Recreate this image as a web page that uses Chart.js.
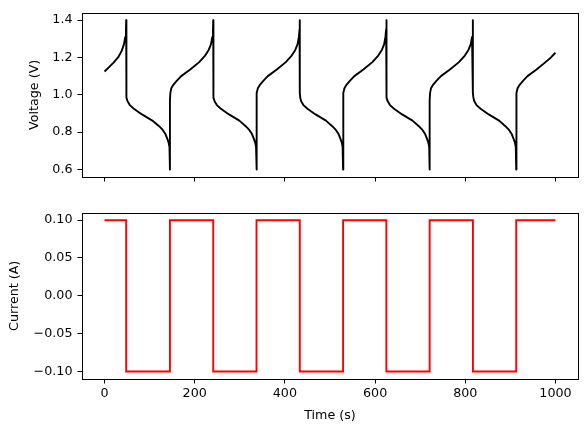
<!DOCTYPE html>
<html>
<head>
<meta charset="utf-8">
<script src="https://cdn.jsdelivr.net/npm/chart.js@4.4.0/dist/chart.umd.min.js"></script>
<style>
  body { margin: 0; background: #fff; }
  #wrap { position: relative; width: 587px; height: 432px; }
  #top { position: absolute; left: 0; top: 0; }
  #bottom { position: absolute; left: 0; top: 200px; }
</style>
</head>
<body>
<div id="wrap">
  <canvas id="top" width="587" height="200"></canvas>
  <canvas id="bottom" width="587" height="232"></canvas>
</div>
<script>
// voltage trace (s, V)
const voltageTime = [
  0, 10, 20, 30, 38, 43, 46, 47.5, 48,
  48, 49, 51, 56, 65, 83, 106, 121, 129, 135, 139, 142, 144, 145,
  145, 146, 148, 153, 160, 170, 190, 210, 223, 231, 236, 239, 240.5, 241,
  241, 242, 244, 249, 258, 276, 299, 313, 321, 327, 331, 334, 336, 337,
  337, 338, 340, 345, 352, 362, 382, 402, 415, 423, 428, 431, 432.5, 433,
  433, 434, 436, 441, 450, 468, 491, 505, 513, 519, 523, 526, 528, 529,
  529, 530, 532, 537, 544, 554, 574, 594, 607, 615, 620, 623, 624.5, 625,
  625, 626, 628, 633, 642, 660, 683, 697, 705, 711, 715, 718, 720, 721,
  721, 722, 724, 729, 736, 746, 766, 786, 799, 807, 812, 815, 816.5, 817,
  817, 818, 820, 825, 834, 852, 875, 889, 897, 903, 907, 910, 912, 913,
  913, 914, 916, 921, 928, 938, 958, 978, 990, 1000
];
const voltageValues = [
  1.125, 1.148, 1.172, 1.20, 1.235, 1.27, 1.31, 1.35, 1.40,
  1.01, 0.985, 0.965, 0.945, 0.925, 0.895, 0.862, 0.832, 0.812, 0.79, 0.765, 0.745, 0.72, 0.60,
  0.97, 1.01, 1.035, 1.055, 1.075, 1.10, 1.135, 1.175, 1.21, 1.24, 1.27, 1.31, 1.35, 1.40,
  1.01, 0.985, 0.965, 0.945, 0.925, 0.895, 0.862, 0.832, 0.812, 0.79, 0.765, 0.745, 0.72, 0.60,
  0.97, 1.01, 1.035, 1.055, 1.075, 1.10, 1.135, 1.175, 1.21, 1.24, 1.27, 1.31, 1.35, 1.40,
  1.01, 0.985, 0.965, 0.945, 0.925, 0.895, 0.862, 0.832, 0.812, 0.79, 0.765, 0.745, 0.72, 0.60,
  0.97, 1.01, 1.035, 1.055, 1.075, 1.10, 1.135, 1.175, 1.21, 1.24, 1.27, 1.31, 1.35, 1.40,
  1.01, 0.985, 0.965, 0.945, 0.925, 0.895, 0.862, 0.832, 0.812, 0.79, 0.765, 0.745, 0.72, 0.60,
  0.97, 1.01, 1.035, 1.055, 1.075, 1.10, 1.135, 1.175, 1.21, 1.24, 1.27, 1.31, 1.35, 1.40,
  1.01, 0.985, 0.965, 0.945, 0.925, 0.895, 0.862, 0.832, 0.812, 0.79, 0.765, 0.745, 0.72, 0.60,
  0.97, 1.01, 1.035, 1.055, 1.075, 1.10, 1.135, 1.175, 1.20, 1.225
];

// current steps: value holds from each time until the next one
const switchTimes = [0, 48, 145, 241, 337, 433, 529, 625, 721, 817, 913, 1000];
const currentValues = [0.1, -0.1, 0.1, -0.1, 0.1, -0.1, 0.1, -0.1, 0.1, -0.1, 0.1, 0.1];

const timeTicks = [0, 200, 400, 600, 800, 1000];
const voltageTicks = [0.6, 0.8, 1.0, 1.2, 1.4];
const currentTicks = [-0.10, -0.05, 0.00, 0.05, 0.10];

const font = { family: 'DejaVu Sans', size: 12.7 };
const minus = s => s.replace('-', '\u2212');

const boxPlugin = {
  id: 'box',
  afterDraw(chart) {
    const a = chart.chartArea;
    const ctx = chart.ctx;
    ctx.save();
    ctx.strokeStyle = '#000';
    ctx.lineWidth = 1;
    ctx.strokeRect(Math.round(a.left) + 0.5, Math.round(a.top) + 0.5,
      Math.round(a.right - a.left), Math.round(a.bottom - a.top));
    ctx.restore();
  }
};

function axisX(showLabels, height) {
  return {
    type: 'linear',
    min: -50,
    max: 1050,
    afterBuildTicks: s => { s.ticks = timeTicks.map(v => ({ value: v })); },
    afterFit: s => { s.height = height; },
    grid: { drawOnChartArea: false, color: '#000', tickLength: 4.5, tickWidth: 1 },
    border: { display: false },
    ticks: { display: showLabels, color: '#000', font: font, padding: 3, maxRotation: 0, callback: v => String(v) },
    title: { display: showLabels, text: 'Time (s)', color: '#000', font: font, padding: { top: 0, bottom: 9 } }
  };
}

function axisY(min, max, ticks, digits, label, titlePad) {
  return {
    min: min,
    max: max,
    afterBuildTicks: s => { s.ticks = ticks.map(v => ({ value: v })); },
    afterFit: s => { s.width = 82; },
    grid: { drawOnChartArea: false, color: '#000', tickLength: 4.5, tickWidth: 1 },
    border: { display: false },
    ticks: { color: '#000', font: font, padding: 5, callback: v => minus(v.toFixed(digits)) },
    title: { display: true, text: label, color: '#000', font: font, padding: { top: titlePad, bottom: 0 } }
  };
}

function baseOptions(padTop, x, y) {
  return {
    responsive: false,
    animation: false,
    events: [],
    layout: { padding: { left: 0, right: 9, top: padTop, bottom: 0 } },
    plugins: { legend: { display: false }, tooltip: { enabled: false } },
    scales: { x: x, y: y }
  };
}

new Chart(document.getElementById('top').getContext('2d'), {
  type: 'line',
  data: {
    datasets: [{
      label: 'Voltage',
      data: voltageTime.map((t, i) => ({ x: t, y: voltageValues[i] })),
      borderColor: '#000',
      borderWidth: 1.9,
      borderJoinStyle: 'round',
      pointRadius: 0,
      tension: 0,
      fill: false
    }]
  },
  options: baseOptions(9, axisX(false, 23), axisY(0.56, 1.44, voltageTicks, 1, 'Voltage (V)', 27.5)),
  plugins: [boxPlugin]
});

new Chart(document.getElementById('bottom').getContext('2d'), {
  type: 'line',
  data: {
    datasets: [{
      label: 'Current',
      data: switchTimes.map((t, i) => ({ x: t, y: currentValues[i] })),
      borderColor: '#ff0000',
      borderWidth: 1.9,
      stepped: true,
      pointRadius: 0,
      fill: false
    }]
  },
  options: baseOptions(11, axisX(true, 53), axisY(-0.11, 0.11, currentTicks, 2, 'Current (A)', 7.5)),
  plugins: [boxPlugin]
});
</script>
</body>
</html>
